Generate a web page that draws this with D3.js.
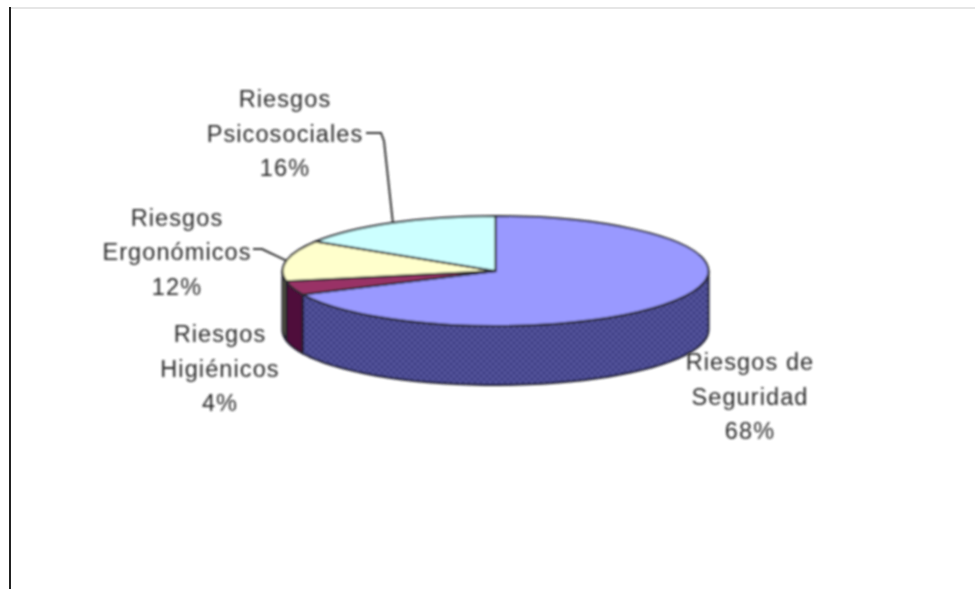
<!DOCTYPE html>
<html><head><meta charset="utf-8">
<script src="https://cdn.jsdelivr.net/npm/d3@7"></script>
<style>html,body{margin:0;padding:0;background:#fff}svg{display:block}</style>
</head><body><svg id="c" width="975" height="589"></svg>
<script>
const categories = ["Riesgos de Seguridad","Riesgos Higiénicos","Riesgos Ergonómicos","Riesgos Psicosociales"];
const shares = [68,4,12,16];
const topColors = ["#9999ff","#993366","#ffffcc","#ccffff"];
const wallColors = ["#55559a","#4f0f3a","#5f5f4a","#5f7f7f"];
const labelLines = [["Riesgos de","Seguridad","68%"],["Riesgos","Higiénicos","4%"],["Riesgos","Ergonómicos","12%"],["Riesgos","Psicosociales","16%"]];

const svg = d3.select("#c");
const cx = 495.5, cy = 271, rx = 213, ry = 55, depth = 59;
const x = d3.scaleLinear().domain([-1,1]).range([cx-rx,cx+rx]);
const y = d3.scaleLinear().domain([-1,1]).range([cy-ry,cy+ry]);

const defs = svg.append("defs");
const soft = defs.append("filter").attr("id","soft").attr("filterUnits","userSpaceOnUse")
  .attr("x",0).attr("y",0).attr("width",975).attr("height",589);
soft.append("feGaussianBlur").attr("stdDeviation",0.9);
const pat = defs.append("pattern").attr("id","dots").attr("patternUnits","userSpaceOnUse").attr("width",6).attr("height",6);
pat.append("rect").attr("width",6).attr("height",6).attr("fill","#45458a");
pat.append("rect").attr("width",2).attr("height",2).attr("fill","#5d5da8");
pat.append("rect").attr("x",3).attr("y",3).attr("width",2).attr("height",2).attr("fill","#5d5da8");

svg.append("line").attr("x1",9).attr("x2",975).attr("y1",8).attr("y2",8).attr("stroke","#e6e6e6").attr("stroke-width",2);
svg.append("line").attr("x1",10).attr("x2",10).attr("y1",7).attr("y2",589).attr("stroke","#222").attr("stroke-width",2);

const arcs = d3.pie().sort(null).value(d=>d)(shares);
const g = svg.append("g").attr("filter","url(#soft)");
const pt = a => [x(Math.sin(a)), y(-Math.cos(a))];
const wall = (a0,a1) => {
  const s = d3.range(0,41).map(i=>a0+(a1-a0)*i/40);
  const top = s.map(pt);
  const bot = s.slice().reverse().map(a=>{const p=pt(a);return [p[0],p[1]+depth];});
  return d3.line()(top.concat(bot))+"Z";
};
arcs.forEach((d,i)=>{
  const a0 = Math.max(d.startAngle,Math.PI/2), a1 = Math.min(d.endAngle,Math.PI*1.5);
  if(a1<=a0) return;
  g.append("path").attr("d",wall(a0,a1))
    .attr("fill", i===0 ? "url(#dots)" : wallColors[i])
    .attr("stroke","#1c1c2c").attr("stroke-width",2).attr("stroke-linejoin","round");
});
const arc = d3.arc().innerRadius(0).outerRadius(1);
g.selectAll("path.top").data(arcs).join("path").attr("class","top")
  .attr("transform",`translate(${x(0)},${y(0)}) scale(${rx},${ry})`)
  .attr("d",arc)
  .attr("fill",(d,i)=>topColors[i])
  .attr("stroke","#2a2a30").attr("stroke-width",2)
  .style("vector-effect","non-scaling-stroke");

const leader = d3.line();
const psiEnd = pt((arcs[3].startAngle+arcs[3].endAngle)/2);
const ergEnd = pt((arcs[2].startAngle+arcs[2].endAngle)/2);
g.append("path").attr("d",leader([[366,133],[381,133],[384,141],psiEnd])).attr("fill","none").attr("stroke","#333").attr("stroke-width",2);
g.append("path").attr("d",leader([[253,249],[262,249],ergEnd])).attr("fill","none").attr("stroke","#333").attr("stroke-width",2);

const labelPos = [[750,364],[220,336],[177,219.5],[285,101]];
const t = svg.append("g").attr("filter","url(#soft)").attr("font-family","'Liberation Sans',Arial,sans-serif").attr("font-size",23.5).attr("letter-spacing",1.1).attr("fill","#2a2a2a").attr("text-anchor","middle");
labelLines.forEach((ls,i)=>{
  ls.forEach((s,j)=>{
    t.append("text").attr("x",labelPos[i][0]).attr("y",labelPos[i][1]+j*34.5).attr("dominant-baseline","middle").text(s);
  });
});
</script></body></html>
